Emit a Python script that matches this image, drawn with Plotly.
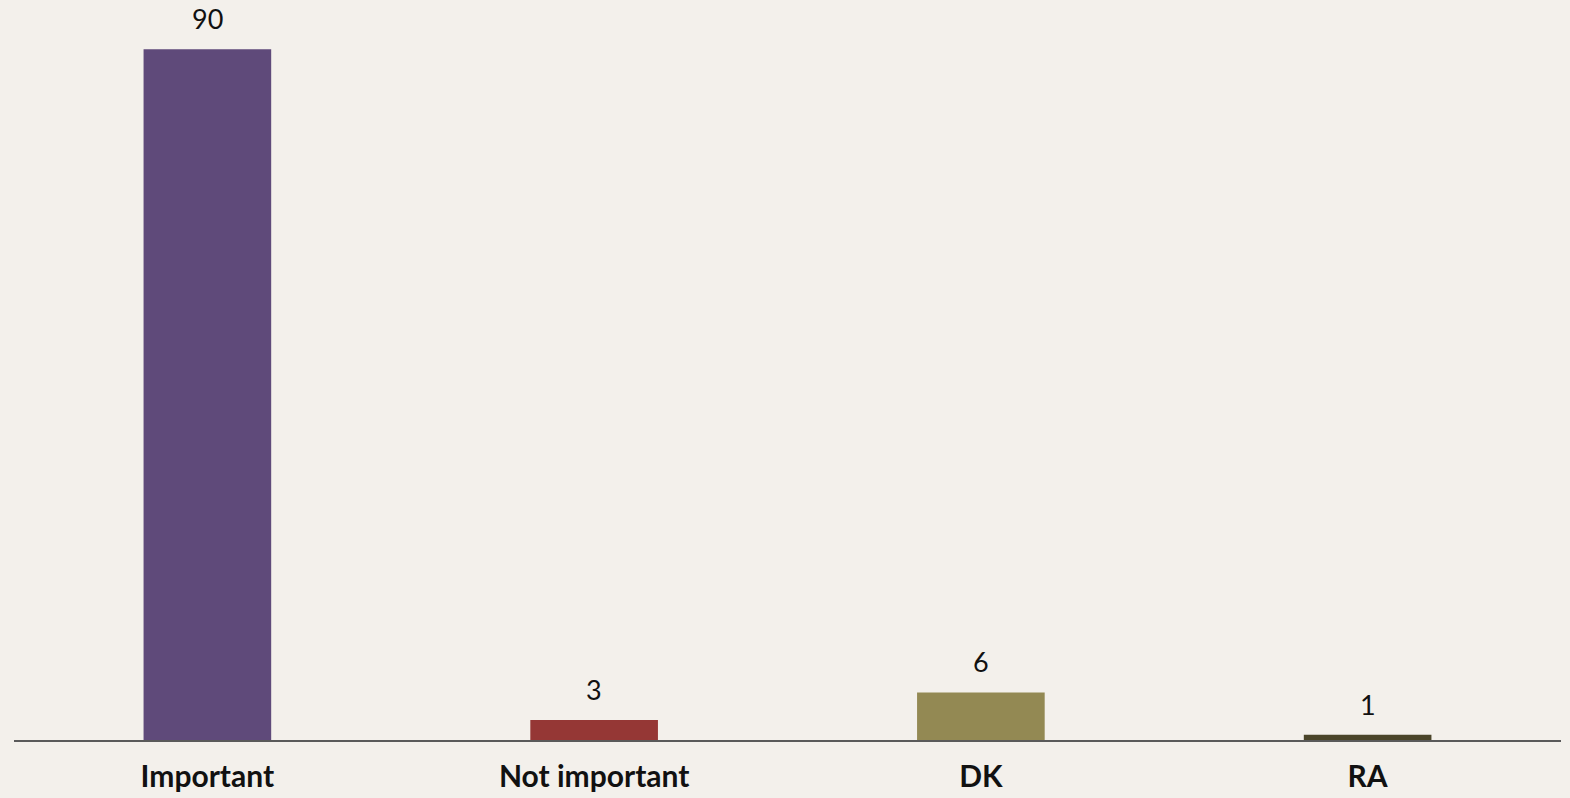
import plotly.graph_objects as go

categories = ["Important", "Not important", "DK", "RA"]
values = [90, 2.6, 6.2, 0.7]
bar_colors = ["#5F4A7A", "#953735", "#938953", "#4A4529"]

fig = go.Figure()
fig.add_trace(go.Bar(
    x=categories, y=values, marker=dict(color=bar_colors, line=dict(width=0)),
    width=0.33, showlegend=False,
))

for c, v in zip(categories, values):
    fig.add_annotation(x=c, y=v, text=f"{v:.0f}", showarrow=False,
                       yanchor="bottom", yshift=12,
                       font=dict(family="Lato", size=27, color="#111111"))

fig.update_layout(
    width=1570, height=798,
    paper_bgcolor="#F3F0EB", plot_bgcolor="#F3F0EB",
    margin=dict(l=14, r=9, t=10, b=58, autoexpand=False),
    bargap=0.67,
    xaxis=dict(showline=True, linecolor="#5A5A5A", linewidth=1.5, ticks="",
               ticklabelstandoff=9, automargin=False,
               tickfont=dict(family="Lato", size=30, color="#111111", weight="bold"),
               showgrid=False, zeroline=False),
    yaxis=dict(range=[0, 95.1], visible=False, showgrid=False, zeroline=False,
               automargin=False),
)
fig.write_html("out.html", config={"displayModeBar": False},
               post_script="document.body.style.margin='0';document.body.style.background='#F3F0EB';")
